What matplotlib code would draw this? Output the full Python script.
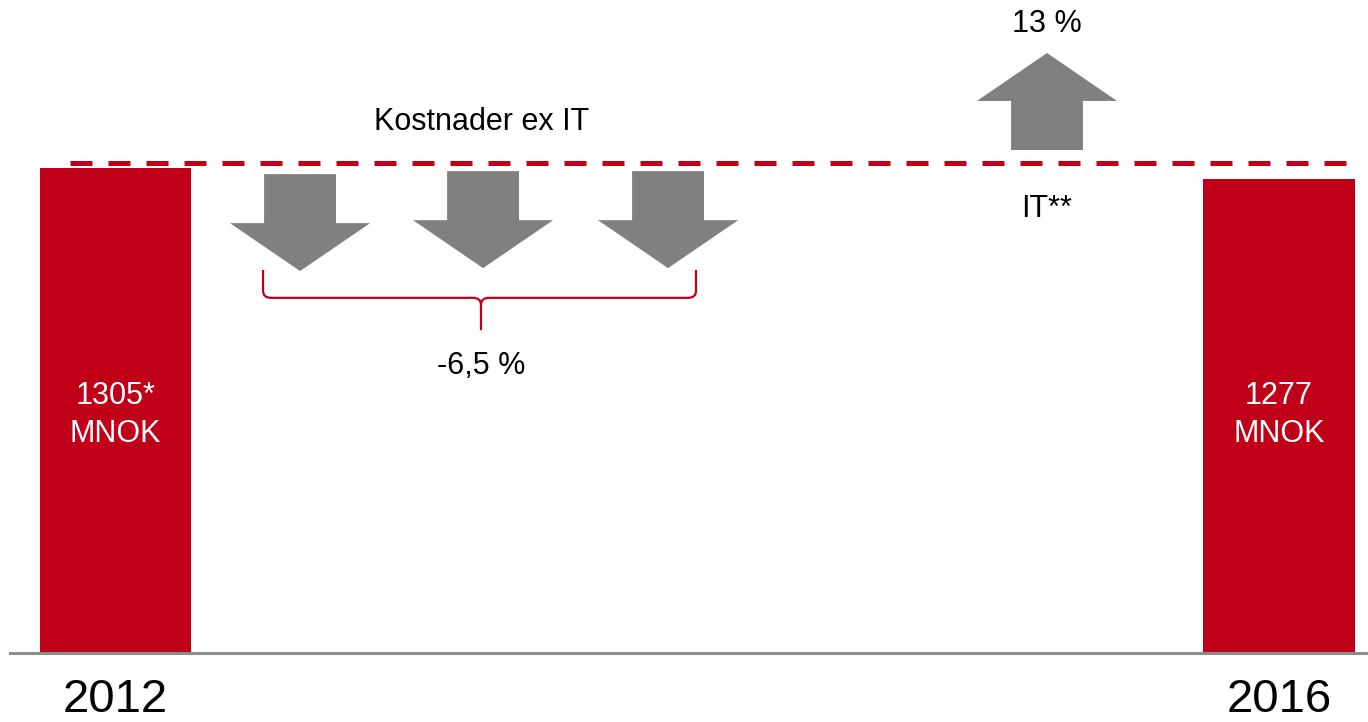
import numpy as np
import matplotlib
matplotlib.use("Agg")
import matplotlib.pyplot as plt
from matplotlib.patches import Polygon, PathPatch
from matplotlib.path import Path

plt.rcParams["font.family"] = ["Liberation Sans", "DejaVu Sans"]

# data
years = ["2012", "2016"]
costs = [1305, 1277]
bar_labels = ["1305*\nMNOK", "1277\nMNOK"]
ref_level = 1319          # dashed reference line (MNOK)
down_x = [0.1586, 0.3159, 0.4749]   # "Kostnader ex IT" cuts
up_x = 0.8006                        # IT increase
cut_label = "-6,5 %"
it_label = "13 %"

RED = "#C00018"
GREY = "#808080"

fig = plt.figure(figsize=(13.68, 7.22), dpi=100)
ax = fig.add_axes([0, 0, 1, 1])
ax.set_xlim(-0.0993, 1.0765)
ax.set_ylim(-185.7, 1757.7)
ax.axis("off")

x = np.arange(len(years))
ax.bar(x, costs, width=0.13, color=RED, zorder=2)
for xi, lab, yr in zip(x, bar_labels, years):
    ax.text(xi, 640, lab, color="white", fontsize=22, ha="center", va="center",
            linespacing=1.35, zorder=3)
    ax.text(xi, -127, yr, color="black", fontsize=34, ha="center", va="center")

# baseline
ax.axhline(0, xmin=0.0073, xmax=1, color="#8C8C8C", lw=2.2, zorder=3)

# dashed reference line
ax.plot([-0.0391, 1.0627], [ref_level, ref_level], color=RED, lw=3.6,
        dashes=(4.4, 3.2), solid_capstyle="butt", dash_capstyle="butt", zorder=2)


def block_arrow(xc, y_tail, y_head, y_tip, shaft=0.0309, head=0.0602):
    pts = [(xc - shaft, y_tail), (xc + shaft, y_tail), (xc + shaft, y_head),
           (xc + head, y_head), (xc, y_tip), (xc - head, y_head),
           (xc - shaft, y_head)]
    ax.add_patch(Polygon(pts, closed=True, facecolor=GREY, edgecolor="none", zorder=2))


for xc, top in zip(down_x, [1289, 1297, 1297]):
    block_arrow(xc, top, top - 132, top - 261)
block_arrow(up_x, 1354, 1486, 1615)

# curly brace under the down arrows
xl, xm, xr = 0.1268, 0.3141, 0.4989
yt, yh, yb = 1031, 956, 869
rx, ry = 0.0069, 19
verts = [(xl, yt), (xl, yh + ry), (xl, yh), (xl + rx, yh),
         (xm - rx, yh), (xm, yh), (xm, yh - ry), (xm, yb),
         (xm, yh - ry), (xm, yh), (xm + rx, yh),
         (xr - rx, yh), (xr, yh), (xr, yh + ry), (xr, yt)]
codes = [Path.MOVETO, Path.LINETO, Path.CURVE3, Path.CURVE3,
         Path.LINETO, Path.CURVE3, Path.CURVE3, Path.LINETO,
         Path.MOVETO, Path.CURVE3, Path.CURVE3,
         Path.LINETO, Path.CURVE3, Path.CURVE3, Path.LINETO]
ax.add_patch(PathPatch(Path(verts, codes), facecolor="none", edgecolor=RED, lw=1.6, zorder=2))

ax.text(0.315, 1429, "Kostnader ex IT", fontsize=22, ha="center", va="center")
ax.text(xm, 773, cut_label, fontsize=22, ha="center", va="center")
ax.text(up_x, 1693, it_label, fontsize=22, ha="center", va="center")
ax.text(up_x, 1196, "IT**", fontsize=22, ha="center", va="center")

fig.savefig("out.png", dpi=100)
